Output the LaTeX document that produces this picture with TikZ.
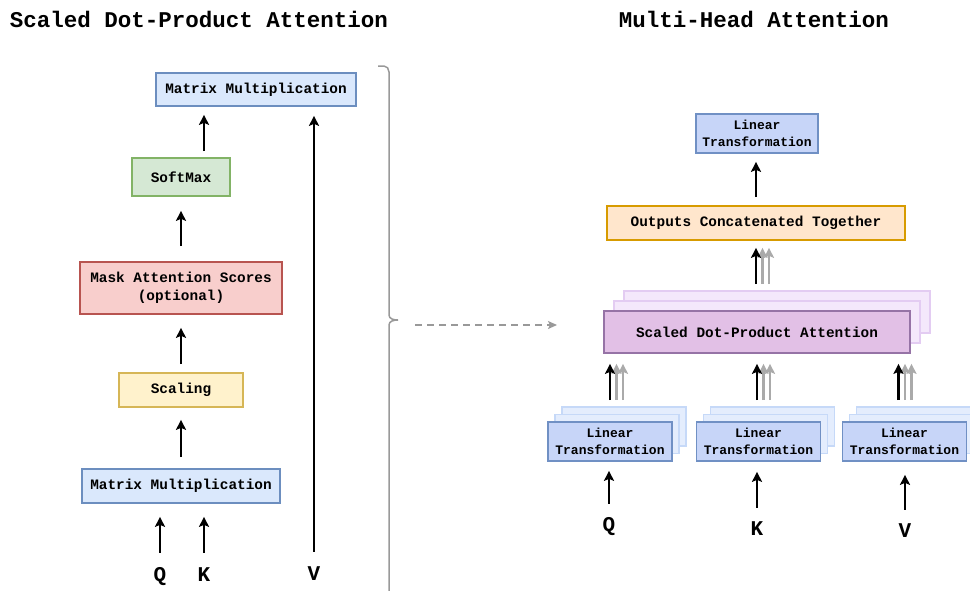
\documentclass[tikz,border=0pt]{standalone}
\usepackage{fontspec}
\setmainfont{Liberation Mono}
\usetikzlibrary{arrows.meta,calc}

\definecolor{mmfill}{HTML}{DAE8FC}
\definecolor{mmline}{HTML}{6C8EBF}
\definecolor{smfill}{HTML}{D5E8D4}
\definecolor{smline}{HTML}{82B366}
\definecolor{mkfill}{HTML}{F8CECC}
\definecolor{mkline}{HTML}{B85450}
\definecolor{scfill}{HTML}{FFF2CC}
\definecolor{scline}{HTML}{D6B656}
\definecolor{linfill}{HTML}{C7D5F8}
\definecolor{linline}{HTML}{7090C4}
\definecolor{linbfill}{HTML}{E4EDFD}
\definecolor{linbline}{HTML}{C6D9F8}
\definecolor{catfill}{HTML}{FFE6CC}
\definecolor{catline}{HTML}{D79B00}
\definecolor{sdfill}{HTML}{E2C0E6}
\definecolor{sdline}{HTML}{9673A6}
\definecolor{sdbfill}{HTML}{F4E8FB}
\definecolor{sdbline}{HTML}{E3CCF2}
\definecolor{arrgray}{HTML}{AAAAAA}
\definecolor{bracegray}{HTML}{999999}

% three parallel arrows (two grey behind, black in front)
\newcommand{\triarrows}[5]{%
  \foreach \dx/\cc in {13/arrgray,6.5/arrgray,0/black}
    \draw[arr, draw=\cc, shorten <=#4, shorten >=#5]
      ([xshift={#3pt+\dx pt}]#1.north) -- ([xshift={#3pt+\dx pt}]#1.north |- #2.south);}

\begin{document}
\begin{tikzpicture}[x=1pt,y=-1pt,
  box/.style={draw, line width=1.7pt, inner sep=0pt, align=center,
    font=\fontsize{14.4}{18}\selectfont\bfseries},
  linbox/.style={box, fill=linfill, draw=linline, minimum width=124pt, minimum height=39pt,
    font=\fontsize{13}{16.5}\selectfont\bfseries},
  linback/.style={draw=linbline, fill=linbfill, line width=1.7pt, minimum width=124pt,
    minimum height=39pt, inner sep=0pt},
  sdback/.style={draw=sdbline, fill=sdbfill, line width=1.7pt, minimum width=306pt,
    minimum height=42pt, inner sep=0pt},
  title/.style={font=\fontsize{22.5}{26}\selectfont\bfseries, anchor=base, inner sep=0pt},
  lbl/.style={font=\fontsize{21}{24}\selectfont\bfseries, anchor=base, inner sep=0pt},
  arr/.style={line width=2.7pt, -{Stealth[length=10pt,width=10pt,inset=2pt]}},
]
\useasboundingbox (0,0) rectangle (970,590);
\clip (0,0) rectangle (970,590);

% titles
\node[title] (t1) at (199,27) {Scaled Dot-Product Attention};
\node[title] (t2) at (754,27) {Multi-Head Attention};

% ---------- scaled dot-product attention ----------
\node[box, fill=mmfill, draw=mmline, minimum width=200pt, minimum height=33pt] (mmtop) at (256,89.5) {Matrix Multiplication};
\node[box, fill=smfill, draw=smline, minimum width=98pt, minimum height=38pt] (soft) at (181,177) {SoftMax};
\node[box, fill=mkfill, draw=mkline, minimum width=202pt, minimum height=52pt] (mask) at (181,288) {Mask Attention Scores\\(optional)};
\node[box, fill=scfill, draw=scline, minimum width=124pt, minimum height=34pt] (scal) at (181,390) {Scaling};
\node[box, fill=mmfill, draw=mmline, minimum width=198pt, minimum height=34pt] (mmbot) at (181,486) {Matrix Multiplication};

\node[lbl] (q1) at (160,581) {Q};
\node[lbl] (k1) at (204,581) {K};
\node[lbl] (v1) at (314,580) {V};

\draw[arr, shorten <=14pt, shorten >=13pt] (q1.north) -- (q1.north |- mmbot.south);
\draw[arr, shorten <=14pt, shorten >=13pt] (k1.north) -- (k1.north |- mmbot.south);
\draw[arr, shorten <=14pt, shorten >=9pt] (v1.north) -- (v1.north |- mmtop.south);
\draw[arr, shorten <=11pt, shorten >=12pt] (mmbot.north) -- (scal.south);
\draw[arr, shorten <=8pt, shorten >=13pt] (scal.north) -- (mask.south);
\draw[arr, shorten <=15pt, shorten >=14pt] (mask.north) -- (soft.south);
\draw[arr, shorten <=6pt, shorten >=8pt] ([xshift=23pt]soft.north) -- ([xshift=23pt]soft.north |- mmtop.south);

% brace and link
\coordinate (bt0) at (378,66);
\coordinate (btip) at (398,320);
\coordinate (bbot) at (389,595);
\coordinate (dstart) at (415,325);
\coordinate (dend) at (557,325);
\draw[bracegray, line width=1.5pt] (bt0) -- ++(6,0) to[out=0,in=90] (389,72) -- (389,315)
  to[out=-90,in=180] (btip) to[out=180,in=90] (389,325) -- (bbot);
\draw[bracegray, line width=1.5pt, dash pattern=on 7pt off 5pt,
  -{Stealth[length=9pt,width=8pt,inset=2pt]}] (dstart) -- (dend);

% ---------- multi-head attention ----------
\node[box, fill=linfill, draw=linline, minimum width=122pt, minimum height=39pt,
  font=\fontsize{13}{16.5}\selectfont\bfseries] (lintop) at (757,133.5) {Linear\\Transformation};
\node[box, fill=catfill, draw=catline, minimum width=298pt, minimum height=34pt] (cat) at (756,223) {Outputs Concatenated Together};

\node[sdback] (sdb2) at (777,312) {};
\node[sdback] (sdb1) at (767,322) {};
\node[box, fill=sdfill, draw=sdline, minimum width=306pt, minimum height=42pt] (sdpa) at (757,332) {Scaled Dot-Product Attention};

\foreach \nm/\cx in {linq/610, link/758.5, linv/904.5}{
  \node[linback] (\nm b2) at (\cx+14,426.5) {};
  \node[linback] (\nm b1) at (\cx+7,434) {};
  \node[linbox] (\nm) at (\cx,441.5) {Linear\\Transformation};
}

\node[lbl] (q2) at (609,531) {Q};
\node[lbl] (k2) at (757,535) {K};
\node[lbl] (v2) at (905,537) {V};

\draw[arr, shorten <=13pt, shorten >=9pt] (q2.north) -- (q2.north |- linq.south);
\draw[arr, shorten <=13pt, shorten >=10pt] (k2.north) -- (k2.north |- link.south);
\draw[arr, shorten <=13pt, shorten >=13pt] (v2.north) -- (v2.north |- linv.south);

\triarrows{linq}{sdpa}{0}{21pt}{10pt}
\triarrows{link}{sdpa}{-1.5}{21pt}{10pt}
\triarrows{linv}{sdpa}{-6}{21pt}{10pt}
\triarrows{sdpa}{cat}{-1}{26pt}{7pt}
\draw[arr, shorten <=8pt, shorten >=8pt] (cat.north) -- (cat.north |- lintop.south);
\end{tikzpicture}
\end{document}
